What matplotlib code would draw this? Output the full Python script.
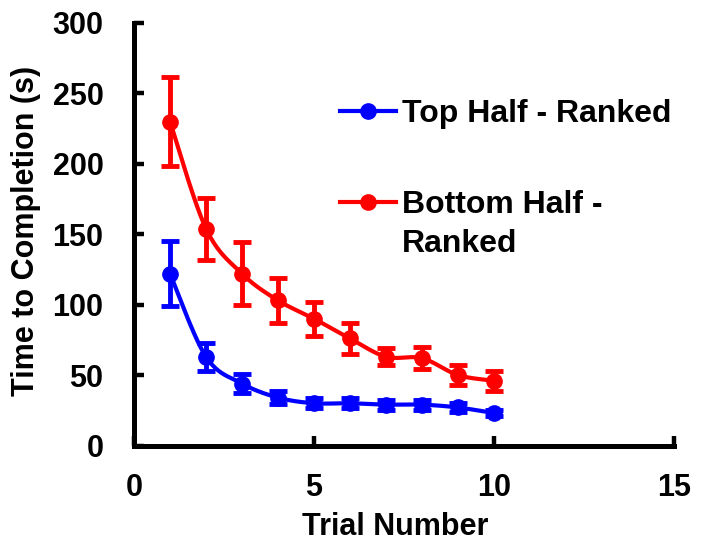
import numpy as np
import matplotlib
matplotlib.use("Agg")
import matplotlib.pyplot as plt
from matplotlib.lines import Line2D
from matplotlib.transforms import IdentityTransform

trial = [1, 2, 3, 4, 5, 6, 7, 8, 9, 10]
top_mean = [122, 63, 44, 34, 30, 30, 29, 29, 27, 23]
top_err = [23, 10, 6.5, 4.5, 3.5, 3.5, 3.5, 3.5, 3, 2]
bottom_mean = [230, 154, 122, 103, 90, 76, 63, 62, 50, 46]
bottom_err = [31.5, 22, 22.5, 16, 12, 11, 6, 8, 7, 7]
series_labels = ["Top Half - Ranked", "Bottom Half -", "Ranked"]
xticks = [0, 5, 10, 15]
yticks = [0, 50, 100, 150, 200, 250, 300]

plt.rcParams['font.family'] = ['Liberation Sans', 'DejaVu Sans']
plt.rcParams['font.weight'] = 'bold'
FS = 22
LEG_FS = 23


def smooth(x, y, sx=36.0, sy=1.407, n=24):
    # Excel-like smoothed line (Catmull-Rom bezier) in screen-ish units
    p = np.column_stack([np.asarray(x, float) * sx, np.asarray(y, float) * sy])
    q = np.vstack([p[0], p, p[-1]])
    t = np.linspace(0, 1, n)[:, None]
    out = []
    for i in range(len(p) - 1):
        p0, p1, p2, p3 = q[i], q[i + 1], q[i + 2], q[i + 3]
        c1 = p1 + (p2 - p0) / 6.0
        c2 = p2 - (p3 - p1) / 6.0
        seg = ((1 - t) ** 3) * p1 + 3 * ((1 - t) ** 2) * t * c1 + 3 * (1 - t) * t ** 2 * c2 + t ** 3 * p2
        out.append(seg if i == 0 else seg[1:])
    out = np.vstack(out)
    return out[:, 0] / sx, out[:, 1] / sy


fig = plt.figure(figsize=(7.03, 5.48), dpi=100)
x0, x1, y0, y1 = 134, 674, 445.5, 23
ax = fig.add_axes([x0 / 703, 1 - y0 / 548, (x1 - x0) / 703, (y0 - y1) / 548])

for mean, err, col in [(top_mean, top_err, '#0000FF'), (bottom_mean, bottom_err, '#FF0000')]:
    cx, cy = smooth(trial, mean)
    ax.plot(cx, cy, color=col, lw=3, solid_capstyle='round')
    ax.errorbar(trial, mean, yerr=err, fmt='none', ecolor=col, elinewidth=3.5,
                capsize=6.5, capthick=3.5)
    ax.plot(trial, mean, 'o', color=col, ms=11)

ax.set_xlim(0, 15)
ax.set_ylim(0, 300)
ax.set_xticks(xticks)
ax.set_yticks(yticks)
for s in ['top', 'right']:
    ax.spines[s].set_visible(False)
for s in ['left', 'bottom']:
    ax.spines[s].set_linewidth(3.6)
    ax.spines[s].set_capstyle('projecting')
ax.tick_params(direction='in', length=7, width=3.2, labelsize=FS)
ax.tick_params(axis='y', pad=22)
ax.tick_params(axis='x', pad=20)

ax.set_xlabel("Trial Number", fontsize=FS, fontweight='bold', va='center')
ax.xaxis.set_label_coords((395 - x0) / (x1 - x0), -(527 - y0) / (y0 - y1))
ax.set_ylabel("Time to Completion (s)", fontsize=FS, fontweight='bold', va='center')
ax.yaxis.set_label_coords((26 - x0) / (x1 - x0), (y0 - 231) / (y0 - y1))

handles = [Line2D([], [], color='#0000FF', lw=3, marker='o', ms=11),
           Line2D([], [], color='#FF0000', lw=3, marker='o', ms=11)]
leg = ax.legend(handles, series_labels[:2], loc='upper left', frameon=False,
                bbox_to_anchor=(340 / 703, 1 - 99 / 548), bbox_transform=fig.transFigure,
                borderpad=0, borderaxespad=0, handlelength=1.75, handletextpad=0.2,
                labelspacing=1.9, prop={'size': LEG_FS, 'weight': 'bold'})

fig.canvas.draw()
bb = leg.get_texts()[1].get_window_extent()
fig.text(bb.x0, bb.y0 - 39, series_labels[2], transform=IdentityTransform(),
         fontsize=LEG_FS, fontweight='bold', va='bottom', ha='left')

fig.savefig("out.png", dpi=100)
